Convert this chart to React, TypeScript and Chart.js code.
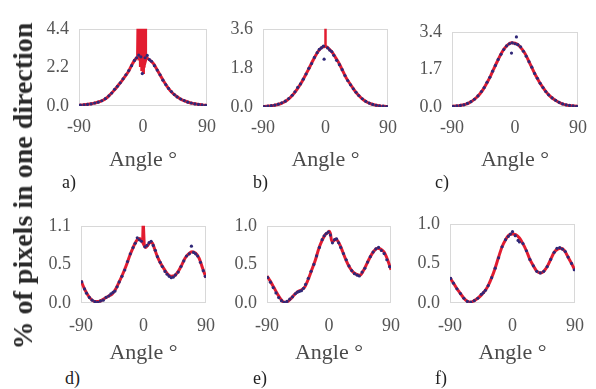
import React, { useEffect, useRef } from "react";
import { Chart, registerables } from "chart.js";

Chart.register(...registerables);

// ---------- shared axis data ----------
const angleTicks = [-90, 0, 90];
const angleTickLabels = ["-90", "0", "90"];
const angles5 = [-90, -85, -80, -75, -70, -65, -60, -55, -50, -45, -40, -35, -30, -25, -20, -15, -10, -5, 0, 5, 10, 15, 20, 25, 30, 35, 40, 45, 50, 55, 60, 65, 70, 75, 80, 85, 90];

// ---------- panel a ----------
const aLineY = [0.04, 0.06, 0.08, 0.11, 0.15, 0.2, 0.26, 0.36, 0.5, 0.7, 0.92, 1.17, 1.42, 1.7, 2.0, 2.4, 2.7, 2.85, 2.8, 2.75, 2.6, 2.4, 2.05, 1.7, 1.35, 1.05, 0.8, 0.62, 0.47, 0.35, 0.27, 0.2, 0.15, 0.11, 0.08, 0.05, 0.04];
const aSpikeX = [-8, -7, -6, -5, -4, -3, -2, -1, 0, 1, 2, 3, 4, 5];
const aSpikeY = [2.82, 6, 2.6, 6, 2.3, 6, 2.0, 6, 1.9, 6, 2.2, 6, 2.6, 2.75];
const aDotX = [-88, -83, -78, -73, -68, -63, -58, -53, -48, -44, -40, -36, -32, -28, -24, -20, -16, -12, -9, -6, -3, -1, 3, 6, 9, 12, 16, 20, 24, 28, 32, 36, 40, 44, 48, 53, 58, 63, 68, 73, 78, 83, 88];
const aDotY = [0.05, 0.07, 0.09, 0.12, 0.17, 0.22, 0.3, 0.42, 0.58, 0.74, 0.95, 1.12, 1.32, 1.55, 1.78, 2.02, 2.3, 2.6, 2.75, 2.9, 2.8, 1.85, 2.75, 2.88, 2.65, 2.55, 2.3, 2.05, 1.78, 1.47, 1.22, 1.0, 0.82, 0.65, 0.52, 0.4, 0.31, 0.22, 0.17, 0.12, 0.09, 0.06, 0.04];
const aYTicks = [0, 2.2, 4.4];
const aYTickLabels = ["0.0", "2.2", "4.4"];

// ---------- panel b ----------
const bLineY = [0.02, 0.03, 0.05, 0.07, 0.1, 0.15, 0.22, 0.32, 0.46, 0.64, 0.86, 1.1, 1.4, 1.7, 2.02, 2.33, 2.58, 2.75, 2.78, 2.68, 2.5, 2.25, 1.98, 1.65, 1.33, 1.08, 0.85, 0.63, 0.46, 0.32, 0.22, 0.15, 0.1, 0.07, 0.04, 0.03, 0.02];
const bSpikeX = [0, 0];
const bSpikeY = [2.78, 5];
const bDotX = [-88, -83, -78, -73, -68, -63, -58, -53, -48, -44, -40, -36, -32, -28, -24, -20, -16, -12, -9, -6, -3, -2, 3, 6, 9, 12, 16, 20, 24, 28, 32, 36, 40, 44, 48, 53, 58, 63, 68, 73, 78, 83, 88];
const bDotY = [0.02, 0.04, 0.06, 0.09, 0.13, 0.19, 0.27, 0.39, 0.54, 0.7, 0.9, 1.06, 1.28, 1.52, 1.78, 2.0, 2.28, 2.5, 2.65, 2.72, 2.8, 2.2, 2.72, 2.62, 2.55, 2.38, 2.15, 1.95, 1.72, 1.45, 1.22, 1.02, 0.84, 0.68, 0.53, 0.38, 0.26, 0.18, 0.12, 0.08, 0.05, 0.04, 0.02];
const bYTicks = [0, 1.8, 3.6];
const bYTickLabels = ["0.0", "1.8", "3.6"];

// ---------- panel c ----------
const cLineY = [0.03, 0.04, 0.06, 0.09, 0.13, 0.2, 0.3, 0.43, 0.6, 0.82, 1.1, 1.4, 1.75, 2.08, 2.4, 2.65, 2.82, 2.9, 2.88, 2.8, 2.62, 2.38, 2.05, 1.72, 1.4, 1.12, 0.88, 0.66, 0.49, 0.36, 0.26, 0.18, 0.12, 0.08, 0.06, 0.04, 0.03];
const cSpikeX: number[] = [];
const cSpikeY: number[] = [];
const cDotX = [-88, -83, -78, -73, -68, -63, -58, -53, -48, -44, -40, -36, -32, -28, -24, -20, -16, -12, -8, -5, -4, 0, 2, 4, 8, 12, 16, 20, 24, 28, 32, 36, 40, 44, 48, 53, 58, 63, 68, 73, 78, 83, 88];
const cDotY = [0.03, 0.05, 0.07, 0.1, 0.16, 0.24, 0.35, 0.5, 0.7, 0.88, 1.12, 1.34, 1.62, 1.88, 2.15, 2.38, 2.6, 2.76, 2.86, 2.44, 2.9, 2.86, 3.17, 2.82, 2.72, 2.52, 2.3, 2.05, 1.8, 1.52, 1.3, 1.07, 0.88, 0.7, 0.55, 0.41, 0.3, 0.21, 0.14, 0.1, 0.07, 0.05, 0.03];
const cYTicks = [0, 1.7, 3.4];
const cYTickLabels = ["0.0", "1.7", "3.4"];

// ---------- panel d ----------
const dLineX = [-90, -85, -80, -75, -70, -65, -60, -55, -50, -45, -40, -35, -30, -25, -20, -15, -10, -6, -3, 0, 3, 6, 10, 13, 16, 20, 25, 30, 35, 40, 45, 50, 55, 60, 65, 70, 75, 80, 85, 90];
const dLineY = [0.32, 0.2, 0.11, 0.05, 0.02, 0.02, 0.04, 0.07, 0.1, 0.13, 0.2, 0.3, 0.41, 0.53, 0.67, 0.79, 0.89, 0.92, 0.9, 0.84, 0.79, 0.82, 0.87, 0.85, 0.77, 0.66, 0.56, 0.48, 0.41, 0.38, 0.39, 0.45, 0.54, 0.64, 0.7, 0.73, 0.71, 0.64, 0.5, 0.36];
const dSpikeX = [-1.5, -0.5, 0.5, 1.5];
const dSpikeY = [0.9, 1.3, 1.3, 0.8];
const dDotX = [-89, -85, -82, -78, -74, -70, -66, -62, -58, -54, -50, -47, -44, -41, -38, -35, -31, -27, -23, -19, -15, -12, -9, -6, -3, 2, 5, 8, 11, 14, 17, 20, 24, 27, 31, 34, 37, 40, 43, 46, 50, 54, 58, 62, 66, 69, 72, 75, 78, 82, 86, 89];
const dDotY = [0.3, 0.2, 0.14, 0.08, 0.04, 0.02, 0.01, 0.03, 0.04, 0.08, 0.1, 0.13, 0.15, 0.17, 0.23, 0.3, 0.38, 0.47, 0.59, 0.7, 0.79, 0.85, 0.93, 0.9, 0.88, 0.8, 0.82, 0.86, 0.88, 0.82, 0.75, 0.66, 0.58, 0.52, 0.45, 0.41, 0.38, 0.36, 0.37, 0.4, 0.44, 0.52, 0.6, 0.67, 0.7, 0.81, 0.72, 0.7, 0.67, 0.58, 0.46, 0.38];
const dYTicks = [0, 0.55, 1.1];
const dYTickLabels = ["0.0", "0.5", "1.1"];

// ---------- panel e ----------
const eLineX = [-90, -85, -80, -75, -70, -65, -60, -55, -50, -45, -40, -35, -30, -25, -20, -15, -10, -5, -2, 0, 2, 4, 6, 10, 13, 17, 20, 25, 30, 35, 40, 45, 50, 55, 60, 65, 70, 75, 80, 85, 90];
const eLineY = [0.35, 0.28, 0.2, 0.12, 0.05, 0.01, 0.02, 0.06, 0.11, 0.15, 0.17, 0.21, 0.31, 0.43, 0.55, 0.7, 0.81, 0.89, 0.91, 0.93, 0.9, 0.8, 0.8, 0.83, 0.8, 0.73, 0.66, 0.55, 0.46, 0.4, 0.37, 0.36, 0.42, 0.51, 0.6, 0.67, 0.71, 0.7, 0.66, 0.56, 0.43];
const eSpikeX: number[] = [];
const eSpikeY: number[] = [];
const eDotX = [-89, -85, -81, -77, -73, -69, -65, -61, -57, -53, -49, -46, -43, -40, -37, -34, -30, -26, -22, -18, -14, -10, -7, -4, -1, 2, 5, 8, 11, 14, 17, 21, 25, 29, 33, 37, 41, 44, 48, 52, 56, 60, 64, 68, 72, 76, 80, 84, 88];
const eDotY = [0.33, 0.27, 0.2, 0.13, 0.07, 0.03, 0.01, 0.02, 0.05, 0.08, 0.12, 0.14, 0.15, 0.16, 0.19, 0.24, 0.32, 0.41, 0.5, 0.61, 0.72, 0.82, 0.87, 0.9, 0.92, 0.88, 0.78, 0.82, 0.83, 0.78, 0.72, 0.64, 0.56, 0.48, 0.42, 0.38, 0.36, 0.35, 0.4, 0.45, 0.53, 0.6, 0.66, 0.7, 0.72, 0.68, 0.64, 0.56, 0.47];
const eYTicks = [0, 0.5, 1.0];
const eYTickLabels = ["0.0", "0.5", "1.0"];

// ---------- panel f ----------
const fLineY = [0.32, 0.25, 0.18, 0.12, 0.06, 0.02, 0.01, 0.03, 0.06, 0.1, 0.15, 0.22, 0.32, 0.44, 0.58, 0.71, 0.8, 0.86, 0.87, 0.86, 0.82, 0.75, 0.66, 0.55, 0.47, 0.4, 0.38, 0.4, 0.46, 0.55, 0.64, 0.68, 0.69, 0.66, 0.58, 0.5, 0.41];
const fSpikeX: number[] = [];
const fSpikeY: number[] = [];
const fDotX = [-89, -85, -80, -75, -70, -65, -60, -55, -50, -45, -42, -39, -35, -30, -25, -20, -15, -10, -6, -3, 0, 4, 8, 10, 15, 20, 25, 30, 35, 40, 45, 50, 55, 60, 64, 68, 72, 76, 80, 85, 89];
const fDotY = [0.31, 0.25, 0.18, 0.12, 0.06, 0.02, 0.01, 0.03, 0.06, 0.11, 0.13, 0.16, 0.22, 0.32, 0.44, 0.57, 0.71, 0.8, 0.84, 0.87, 0.9, 0.85, 0.79, 0.77, 0.75, 0.66, 0.55, 0.47, 0.4, 0.38, 0.4, 0.46, 0.55, 0.64, 0.69, 0.7, 0.68, 0.65, 0.58, 0.5, 0.42];
const fYTicks = [0, 0.5, 1.0];
const fYTickLabels = ["0.0", "0.5", "1.0"];

const panelLabels = ["a)", "b)", "c)", "d)", "e)", "f)"];
const xTitle = "Angle \u00B0";
const yTitle = "% of pixels in one direction";

// ---------- styling ----------
const SERIF = "'Liberation Serif', serif";
const RED = "rgb(226, 28, 48)";
const DOT = "rgb(48, 40, 120)";
const TICK_COLOR = "#555555";
const TITLE_COLOR = "#4a4a4a";

const boxPlugin = {
  id: "plotBox",
  beforeDatasetsDraw(chart: any) {
    const { ctx, chartArea } = chart;
    const { left, top, right, bottom } = chartArea;
    ctx.save();
    ctx.strokeStyle = "#d8d8d8";
    ctx.lineWidth = 1;
    ctx.strokeRect(Math.round(left) + 0.5, Math.round(top) + 0.5, Math.round(right - left) - 1, Math.round(bottom - top) - 1);
    ctx.restore();
  },
};

type PanelProps = {
  lineX: number[];
  lineY: number[];
  spikeX: number[];
  spikeY: number[];
  dotX: number[];
  dotY: number[];
  yMax: number;
  yTicks: number[];
  yTickLabels: string[];
  box: number[];
  tickPad: number;
  xH: number;
};

const YW = 45;
const PT = 12;
const PR = 14;

function Panel(p: PanelProps) {
  const ref = useRef<HTMLCanvasElement>(null);
  const [L, T, R, B] = p.box;
  const w = YW + (R - L) + PR;
  const h = PT + (B - T) + p.xH;

  useEffect(() => {
    const zip = (xs: number[], ys: number[]) => xs.map((x, i) => ({ x, y: ys[i] }));
    const chart = new Chart(ref.current as HTMLCanvasElement, {
      type: "scatter",
      data: {
        datasets: [
          {
            data: zip(p.dotX, p.dotY),
            pointRadius: 1.6,
            pointBackgroundColor: DOT,
            pointBorderWidth: 0,
            showLine: false,
          } as any,
          {
            data: zip(p.lineX, p.lineY),
            showLine: true,
            borderColor: RED,
            borderWidth: 3,
            pointRadius: 0,
            cubicInterpolationMode: "monotone",
          } as any,
          {
            data: zip(p.spikeX, p.spikeY),
            showLine: true,
            borderColor: RED,
            borderWidth: 2.5,
            pointRadius: 0,
            tension: 0,
          } as any,
        ],
      },
      options: {
        responsive: false,
        animation: false,
        events: [],
        layout: { padding: { top: PT, right: PR, left: 0, bottom: 0 } },
        plugins: { legend: { display: false }, tooltip: { enabled: false } },
        scales: {
          x: {
            type: "linear",
            min: -90,
            max: 90,
            afterBuildTicks: (s: any) => {
              s.ticks = angleTicks.map((v) => ({ value: v }));
            },
            afterFit: (s: any) => {
              s.height = p.xH;
            },
            grid: { display: false, drawTicks: false },
            border: { display: false },
            ticks: {
              autoSkip: false,
              maxRotation: 0,
              padding: p.tickPad,
              color: TICK_COLOR,
              font: { family: SERIF, size: 18 },
              callback: (_v: any, i: number) => angleTickLabels[i],
            },
            title: {
              display: true,
              text: xTitle,
              color: TITLE_COLOR,
              padding: 0,
              font: { family: SERIF, size: 22 },
            },
          },
          y: {
            type: "linear",
            min: 0,
            max: p.yMax,
            afterBuildTicks: (s: any) => {
              s.ticks = p.yTicks.map((v) => ({ value: v }));
            },
            afterFit: (s: any) => {
              s.width = YW;
            },
            grid: { display: false, drawTicks: false },
            border: { display: false },
            ticks: {
              autoSkip: false,
              padding: 10,
              color: TICK_COLOR,
              font: { family: SERIF, size: 18 },
              callback: (_v: any, i: number) => p.yTickLabels[i],
            },
          },
        },
      } as any,
      plugins: [boxPlugin],
    });
    return () => chart.destroy();
  }, []);

  return (
    <canvas
      ref={ref}
      width={w}
      height={h}
      style={{ position: "absolute", left: L - YW, top: T - PT, width: w, height: h }}
    />
  );
}

const panels: PanelProps[] = [
  { lineX: angles5, lineY: aLineY, spikeX: aSpikeX, spikeY: aSpikeY, dotX: aDotX, dotY: aDotY, yMax: 4.4, yTicks: aYTicks, yTickLabels: aYTickLabels, box: [79, 20, 212, 106], tickPad: 10, xH: 67 },
  { lineX: angles5, lineY: bLineY, spikeX: bSpikeX, spikeY: bSpikeY, dotX: bDotX, dotY: bDotY, yMax: 3.6, yTicks: bYTicks, yTickLabels: bYTickLabels, box: [263, 20, 393, 107], tickPad: 10, xH: 66 },
  { lineX: angles5, lineY: cLineY, spikeX: cSpikeX, spikeY: cSpikeY, dotX: cDotX, dotY: cDotY, yMax: 3.4, yTicks: cYTicks, yTickLabels: cYTickLabels, box: [452, 23, 583, 107], tickPad: 10, xH: 66 },
  { lineX: dLineX, lineY: dLineY, spikeX: dSpikeX, spikeY: dSpikeY, dotX: dDotX, dotY: dDotY, yMax: 1.1, yTicks: dYTicks, yTickLabels: dYTickLabels, box: [81, 217, 213, 303], tickPad: 12, xH: 63 },
  { lineX: eLineX, lineY: eLineY, spikeX: eSpikeX, spikeY: eSpikeY, dotX: eDotX, dotY: eDotY, yMax: 1.0, yTicks: eYTicks, yTickLabels: eYTickLabels, box: [267, 217, 398, 303], tickPad: 12, xH: 63 },
  { lineX: angles5, lineY: fLineY, spikeX: fSpikeX, spikeY: fSpikeY, dotX: fDotX, dotY: fDotY, yMax: 1.0, yTicks: fYTicks, yTickLabels: fYTickLabels, box: [450, 215, 582, 303], tickPad: 12, xH: 63 },
];

const labelPos = [
  [62, 182],
  [253, 182],
  [435, 182],
  [65, 378],
  [253, 378],
  [435, 378],
];

export default function App() {
  return (
    <div style={{ position: "absolute", left: 0, top: 0, width: 596, height: 389, background: "#ffffff", overflow: "hidden" }}>
      {panels.map((p, i) => (
        <Panel key={i} {...p} />
      ))}
      {panelLabels.map((t, i) => (
        <div
          key={t}
          style={{
            position: "absolute",
            left: labelPos[i][0],
            top: labelPos[i][1] - 10,
            fontFamily: SERIF,
            fontSize: 18,
            lineHeight: "20px",
            color: "#222",
          }}
        >
          {t}
        </div>
      ))}
      <div
        style={{
          position: "absolute",
          left: 23,
          top: 186,
          transform: "translate(-50%, -50%) rotate(-90deg)",
          whiteSpace: "nowrap",
          fontFamily: SERIF,
          fontSize: 28,
          fontWeight: "bold",
          color: "#2a2a2a",
          lineHeight: "32px",
        }}
      >
        {yTitle}
      </div>
    </div>
  );
}
